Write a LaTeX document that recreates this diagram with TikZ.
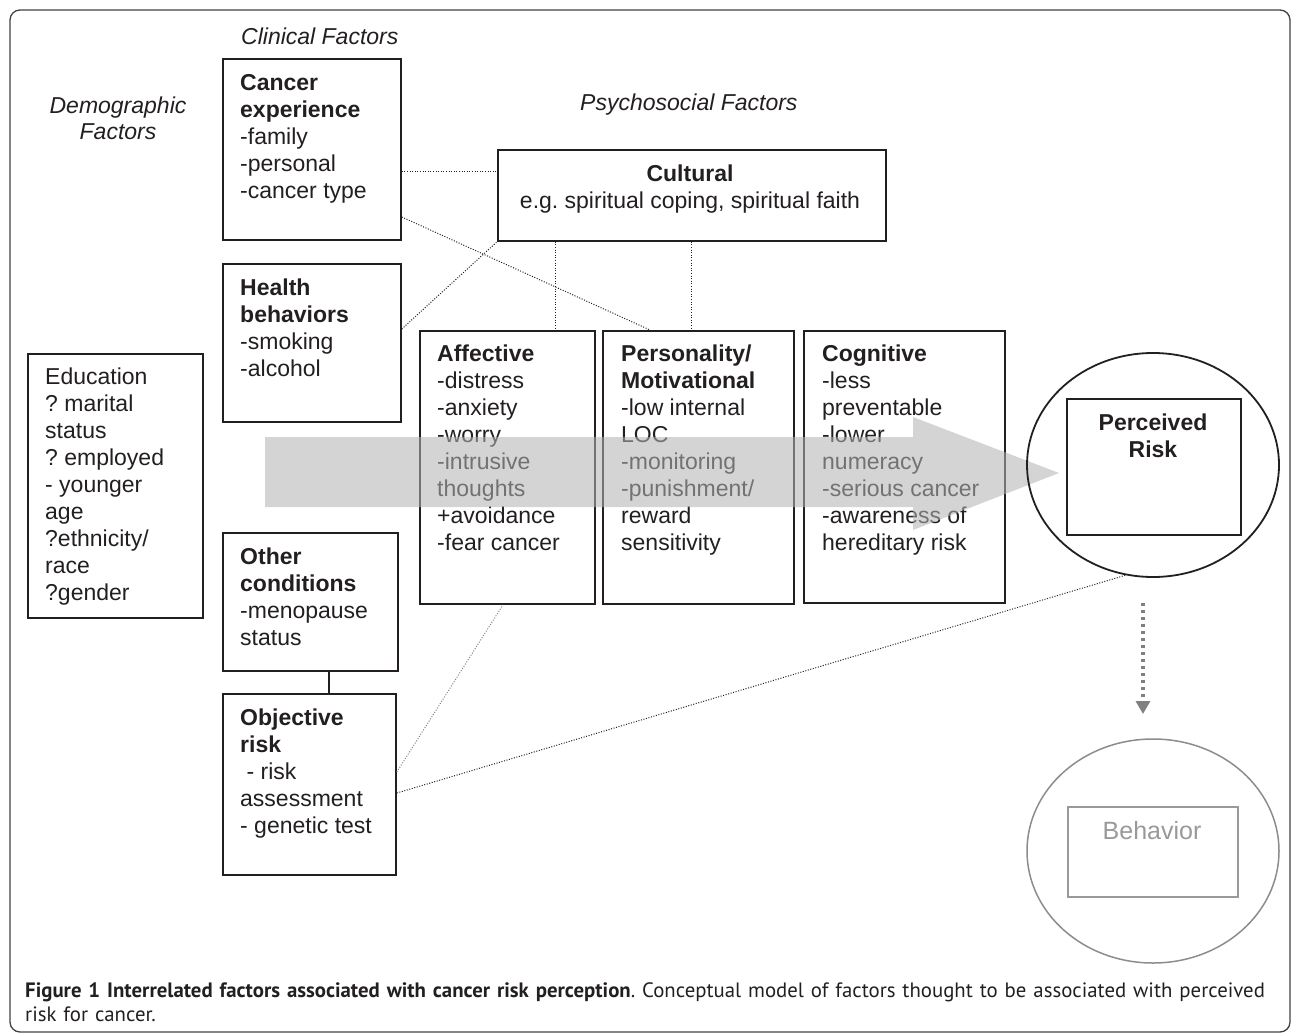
\documentclass[tikz,border=0pt]{standalone}
\usepackage{fontspec}
\setmainfont{Liberation Sans}
\newfontfamily\capfont{PT Sans}
\usetikzlibrary{arrows.meta,shapes.geometric}
\definecolor{ink}{HTML}{231F20}
\definecolor{bandgray}{HTML}{B3B3B3}
\definecolor{arrowgray}{HTML}{808080}
\definecolor{behgray}{HTML}{8C8C8C}
\definecolor{behtext}{HTML}{999999}
\frenchspacing
\begin{document}
\begin{tikzpicture}[x=1pt,y=-1pt,
  box/.style={draw=ink,line width=1.8pt,rectangle,inner sep=0pt,anchor=north west},
  txt/.style={inner sep=0pt,anchor=north west,align=left,text=ink,font=\fontsize{23}{27}\selectfont},
  ctxt/.style={inner sep=0pt,anchor=north,align=center,text=ink,font=\fontsize{23}{27}\selectfont},
  head/.style={inner sep=0pt,text=ink,font=\fontsize{23}{26}\selectfont\itshape},
  link/.style={draw=ink,line width=1pt,dash pattern=on 1pt off 1.6pt},
  glink/.style={draw=gray,line width=1pt,dash pattern=on 1pt off 1.6pt},
  solidlink/.style={draw=ink,line width=1.8pt},
  bigarrow/.style={fill=bandgray,fill opacity=0.56},
  ringshape/.style={ellipse,inner sep=0pt,minimum width=252pt,minimum height=224pt}
]
\useasboundingbox (0,0) rectangle (1293,1035);
% frame
\draw[draw=ink!85,line width=1.3pt,rounded corners=10pt] (10,10) rectangle (1290,1032);

% headings
\node[head,anchor=base west] (hclin) at (241,45) {Clinical Factors};
\node[head,anchor=north,align=center] (hdemo) at (118,94.8) {\strut Demographic\\Factors};
\node[head,anchor=base west] (hpsy) at (580,111) {Psychosocial Factors};

% boxes
\node[box,minimum width=178pt,minimum height=181pt] (ce) at (222,58) {};
\node[box,minimum width=388pt,minimum height=91pt] (cult) at (497,149) {};
\node[box,minimum width=178pt,minimum height=158pt] (hb) at (222,263) {};
\node[box,minimum width=175pt,minimum height=264pt] (edu) at (27,353) {};
\node[box,minimum width=175pt,minimum height=138pt] (oc) at (222,532) {};
\node[box,minimum width=173pt,minimum height=181pt] (obj) at (222,693) {};
\node[box,minimum width=175pt,minimum height=273pt] (aff) at (419,330) {};
\node[box,minimum width=191pt,minimum height=273pt] (pers) at (602,330) {};
\node[box,minimum width=201pt,minimum height=272pt] (cog) at (803,330) {};

% box texts
\node[txt] (cet) at (240,71.1) {\strut\textbf{Cancer}\\\textbf{experience}\\-family\\-personal\\-cancer type};
\node[ctxt] (cultt) at (690,162.1) {\strut\textbf{Cultural}\\e.g.\ spiritual coping, spiritual faith};
\node[txt] (hbt) at (240,276.1) {\strut\textbf{Health}\\\textbf{behaviors}\\-smoking\\-alcohol};
\node[txt] (edut) at (45,365.1) {\strut Education\\?\ marital\\status\\?\ employed\\- younger\\age\\?ethnicity/\\race\\?gender};
\node[txt] (oct) at (240,545.1) {\strut\textbf{Other}\\\textbf{conditions}\\-menopause\\status};
\node[txt] (objt) at (240,706.1) {\strut\textbf{Objective}\\\textbf{risk}\\\hspace*{6.4pt}- risk\\assessment\\- genetic test};
\node[txt] (afft) at (437,342.1) {\strut\textbf{Affective}\\-distress\\-anxiety\\-worry\\-intrusive\\thoughts\\+avoidance\\-fear cancer};
\node[txt] (perst) at (621,342.1) {\strut\textbf{Personality/}\\\textbf{Motivational}\\-low internal\\LOC\\-monitoring\\-punishment/\\reward\\sensitivity};
\node[txt] (cogt) at (822,342.1) {\strut\textbf{Cognitive}\\-less\\preventable\\-lower\\numeracy\\-serious cancer\\-awareness of\\hereditary risk};

% connectors
\draw[link] ([yshift=-114pt]ce.north east) -- ([yshift=-23pt]cult.north west);
\draw[link] ([yshift=-159pt]ce.north east) -- ([xshift=48pt]pers.north west);
\draw[link] ([yshift=-66pt]hb.north east) -- (cult.south west);
\draw[link] ([xshift=58pt]cult.south west) -- ([xshift=136pt]aff.north west);
\draw[link] ([xshift=194pt]cult.south west) -- ([xshift=89pt]pers.north west);
\draw[glink] ([yshift=-79pt]obj.north east) -- ([xshift=84pt]aff.south west);
\draw[solidlink] ([xshift=107pt]oc.south west) -- ([xshift=107pt]obj.north west);

% big grey arrow
\fill[bigarrow] (265,437) -- (913,437) -- (913,417) -- (1059,473) -- (913,530) -- (913,507) -- (265,507) -- cycle;

% perceived risk
\node[ringshape,draw=ink,line width=1.8pt] (pr) at (1153,465) {};
\node[box,minimum width=174pt,minimum height=136pt] (prb) at (1066,398) {};
\node[ctxt] (prt) at (1153,411.1) {\strut\textbf{Perceived}\\\textbf{Risk}};
\draw[link] ([yshift=-100pt]obj.north east) -- (pr.256);

% behavior
\coordinate (ga) at (1143,603);
\coordinate (gb) at (1143,714);
\draw[draw=arrowgray,line width=4pt,dash pattern=on 3pt off 4pt,-{Triangle[width=14pt,length=13pt]}] (ga) -- (gb);
\node[ringshape,draw=behgray,line width=1.5pt] (be) at (1153,851) {};
\node[box,draw=behtext,line width=1.5pt,minimum width=170pt,minimum height=90pt] (bb) at (1067,806) {};
\node[inner sep=0pt,anchor=base,text=behtext,font=\fontsize{25}{30}\selectfont] (bt) at (1152,839) {Behavior};

% caption
\node[inner sep=0pt,anchor=north west,text width=1252pt,align=left,text=ink,font=\capfont\fontsize{20.8}{24}\selectfont] (cap) at (25,980.2)
  {\strut\makebox[1251pt][s]{\textbf{Figure 1 Interrelated factors associated with cancer risk perception}. Conceptual model of factors thought to be associated with perceived}\\risk for cancer.};
\end{tikzpicture}
\end{document}
